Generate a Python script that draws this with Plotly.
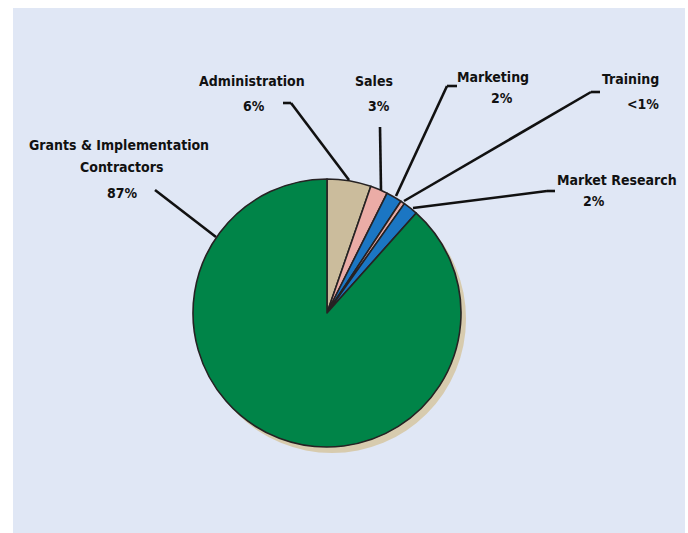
import plotly.graph_objects as go

W, H = 688, 533

categories = ["Administration", "Sales", "Marketing", "Training", "Market Research",
              "Grants & Implementation Contractors"]
values = [5.3, 2.1, 1.9, 0.5, 1.8, 88.4]
pct_labels = ["6%", "3%", "2%", "<1%", "2%", "87%"]
colors = ["#cbbc9c", "#ebaca6", "#1b76c3", "#ebaca6", "#1b76c3", "#008448"]

def px(x):
    return x / W

def py(y):
    return 1 - y / H

cx, cy, r = 327, 313, 134
sh_dx, sh_dy = 5, 6

fig = go.Figure()

# shadow
fig.add_trace(go.Pie(
    values=[1], marker=dict(colors=["#d7cbae"], line=dict(width=0)),
    textinfo="none", hoverinfo="skip", showlegend=False, sort=False,
    domain=dict(x=[px(cx + sh_dx - r), px(cx + sh_dx + r)],
                y=[py(cy + sh_dy + r), py(cy + sh_dy - r)]),
))

fig.add_trace(go.Pie(
    labels=categories, values=values, sort=False, direction="clockwise", rotation=0,
    marker=dict(colors=colors, line=dict(color="#262223", width=1.6)),
    textinfo="none", showlegend=False,
    domain=dict(x=[px(cx - r), px(cx + r)], y=[py(cy + r), py(cy - r)]),
))

shapes = [dict(type="rect", xref="paper", yref="paper", x0=px(13), x1=px(685),
               y0=0, y1=py(8), fillcolor="#e0e7f5", line=dict(width=0), layer="below")]

leaders = [
    [(155, 190), (216, 237)],
    [(283, 103), (291, 103), (349, 180)],
    [(380, 127), (381, 190)],
    [(457, 86), (447, 86), (396, 196)],
    [(600, 92), (591, 92), (404, 201)],
    [(555, 191), (547, 191), (413, 208)],
]
for pts in leaders:
    for (x0, y0), (x1, y1) in zip(pts[:-1], pts[1:]):
        shapes.append(dict(type="line", xref="paper", yref="paper",
                           x0=px(x0), y0=py(y0), x1=px(x1), y1=py(y1),
                           line=dict(color="#111111", width=2.6), layer="above"))

text_items = [
    ("Grants & Implementation", 119, 145),
    ("Contractors", 121, 167),
    (pct_labels[5], 122, 193),
    ("Administration", 252, 81),
    (pct_labels[0], 254, 106),
    ("Sales", 374, 81),
    (pct_labels[1], 379, 106),
    ("Marketing", 493, 77),
    (pct_labels[2], 502, 98),
    ("Training", 630, 79),
    (pct_labels[3], 643, 104),
    ("Market Research", 617, 180),
    (pct_labels[4], 594, 201),
]
annotations = [dict(text="<b>%s</b>" % t, x=px(x), y=py(y), xref="paper", yref="paper",
                    xanchor="center", yanchor="middle", showarrow=False,
                    font=dict(family="DejaVu Sans Condensed, sans-serif",
                              size=14, color="#111111"))
               for t, x, y in text_items]

fig.update_layout(
    width=W, height=H, margin=dict(l=0, r=0, t=0, b=0),
    paper_bgcolor="white", plot_bgcolor="white",
    shapes=shapes, annotations=annotations, showlegend=False,
)

fig.write_html(
    "out.html",
    config={"displayModeBar": False},
    post_script="document.documentElement.style.margin='0';document.body.style.margin='0';"
                "document.documentElement.style.overflow='hidden';document.body.style.overflow='hidden';",
)
